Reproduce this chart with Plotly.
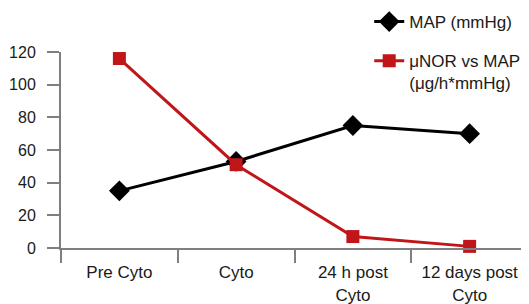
import plotly.graph_objects as go

categories = ["Pre Cyto", "Cyto", "24 h post<br>Cyto", "12 days post<br>Cyto"]
map_values = [35, 53, 75, 70]
unor_values = [116, 51, 7, 1]
y_ticks = [0, 20, 40, 60, 80, 100, 120]

fig = go.Figure()
fig.add_trace(go.Scatter(
    x=categories, y=map_values, mode="lines+markers", name="MAP (mmHg)",
    legendgroup="a",
    line=dict(color="#000000", width=3),
    marker=dict(symbol="diamond", size=16, color="#000000"),
    cliponaxis=False,
))
fig.add_trace(go.Scatter(
    x=categories, y=unor_values, mode="lines+markers",
    name="μNOR vs MAP<br>(μg/h*mmHg)",
    legendgroup="b",
    line=dict(color="#c0161a", width=3),
    marker=dict(symbol="square", size=13, color="#c0161a"),
    cliponaxis=False,
))

# page body has an 8px default margin, so the figure is offset by 8px
fig.update_layout(
    width=521, height=296,
    margin=dict(l=53, r=1, t=44, b=56, autoexpand=False),
    paper_bgcolor="white", plot_bgcolor="white",
    font=dict(family="Liberation Sans, Arial, sans-serif", size=16, color="#1a1a1a"),
    showlegend=True,
    legend=dict(
        x=0.66, xanchor="left", y=1.245, yanchor="top",
        bgcolor="rgba(0,0,0,0)", font=dict(size=17),
        tracegroupgap=14, itemwidth=30, valign="top",
    ),
)
fig.update_xaxes(
    type="category", range=[-0.5, 3.5], showgrid=False, zeroline=False,
    showline=True, linecolor="#7f7f7f", linewidth=2, automargin=False,
    ticks="outside", tickson="boundaries", ticklen=13, tickwidth=2, tickcolor="#7f7f7f",
    tickfont=dict(size=17), ticklabelstandoff=8,
)
fig.update_yaxes(
    range=[0, 120], tickvals=y_ticks, showgrid=False, zeroline=False,
    showline=True, linecolor="#7f7f7f", linewidth=2, automargin=False,
    ticks="outside", ticklen=12, tickwidth=2, tickcolor="#7f7f7f",
    tickfont=dict(size=16), ticklabelstandoff=8,
)

fig.write_html("out.html")
